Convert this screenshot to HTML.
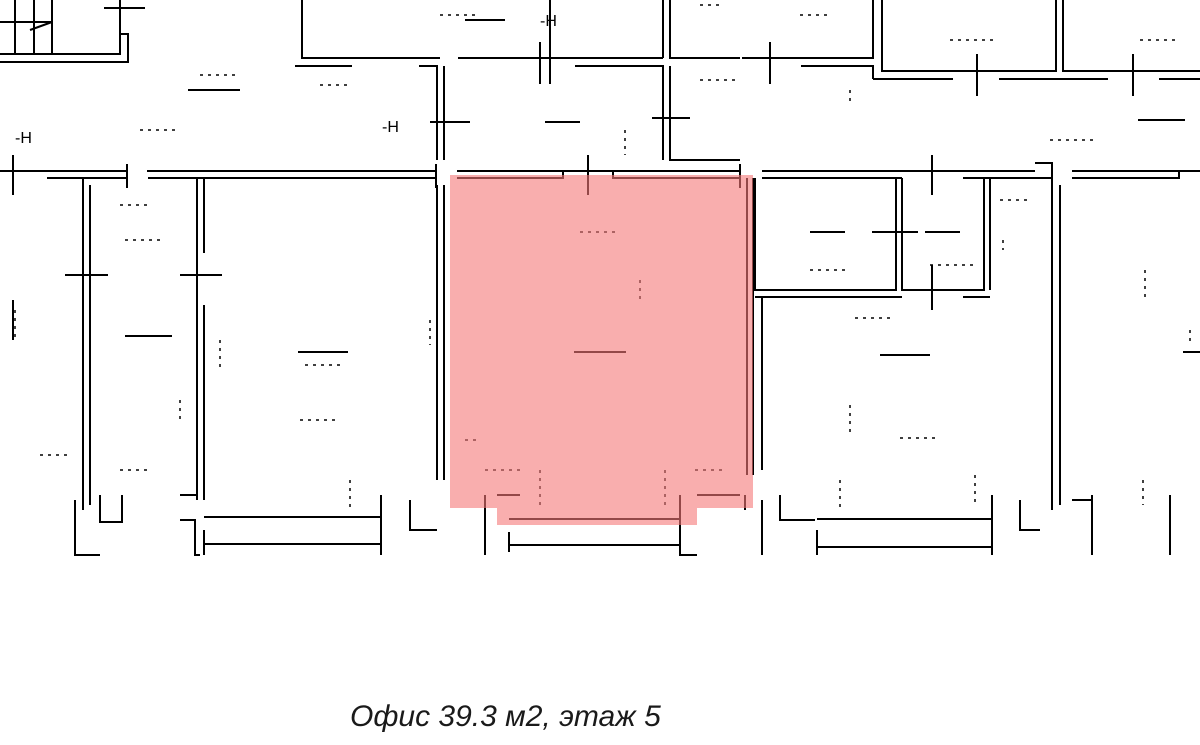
<!DOCTYPE html>
<html><head><meta charset="utf-8"><style>
html,body{margin:0;padding:0;background:#fff;width:1200px;height:745px;overflow:hidden}
svg{position:absolute;left:0;top:0}
.cap{position:absolute;left:350px;top:700px;font-family:"Liberation Sans","DejaVu Sans",sans-serif;font-style:italic;font-size:30px;color:#1a1a1a;white-space:nowrap}
</style></head><body>
<svg width="1200" height="745" viewBox="0 0 1200 745">
<g stroke="#000" stroke-width="2" fill="none">
<path d="M15 0V54M34 0V54M52 0V54M0 22H52M0 54H120V34H128V62H0M30 30L52 22M104 8H145M120 0V54"/>
<path d="M302 0V58H440M458 58H663M663 0V58M670 0V58H740M295 66H352M419 66H437V160M444 66V160M575 66H663V160M670 66V160H740M550 0V84M770 42V84M540 42V84"/>
<path d="M430 122H470M652 118H690M742 58H873V0M801 66H873V79M882 0V71H1056V0M1063 0V71H1200M873 79H953M999 79H1108M1159 79H1200M977 54V96M1133 54V96"/>
<path d="M0 171H127M47 178H127M127 164V188M147 171H436M148 178H436M436 164V188M13 155V195M457 171H740M457 178H563V171M613 171V178H740M588 155V195M740 164V188"/>
<path d="M762 171H1035M762 178H902M963 178H1052M1035 163H1052V510M1060 185V505M1072 171H1200M1072 178H1179V171M932 155V195"/>
<path d="M83 178V510M90 185V505M197 178V253M204 178V253M197 253V500M204 305V500M65 275H108M180 275H222M13 300V340"/>
<path d="M437 185V480M444 185V480M747 178V475M753 178V475"/>
<path d="M755 178V290H896V178M902 178V290H984V178M990 178V290M755 297H902V297M963 297H990M762 297V470M872 232H918M932 265V310"/>
<path d="M100 495V522H122V495M75 500V555H100M180 495H197M180 520H195V555H200M204 517H381M204 544H381M204 530V555M381 495V555M410 500V530H437M485 495V555M497 495H520M509 532V552M509 519H680M509 545H680M680 495V555H697M697 495H740M745 495V510M762 500V555M780 495V520H815M817 519H992M817 547H992M817 530V555M992 495V555M1020 500V530H1040M1092 495V555M1072 500H1092M1170 495V555"/>
<path d="M125 336H172M298 352H348M574 352H626M810 232H845M925 232H960M880 355H930M1183 352H1200M1138 120H1185M188 90H240M545 122H580M465 20H505"/>
</g>
<g fill="#000" font-family="Liberation Sans,sans-serif" font-size="16">
<text x="540" y="26">-H</text><text x="15" y="143">-H</text><text x="382" y="132">-H</text>
</g>
<g stroke="#000" stroke-width="1.5" stroke-dasharray="3 5" fill="none">
<path d="M200 75H235M320 85H350M140 130H175M120 205H150M125 240H160M40 455H70M120 470H150M300 420H335M305 365H340M580 232H615M640 280V300M465 440H480M485 470H520M695 470H725M810 270H845M930 265H975M855 318H890M900 438H935M1000 200H1030M1003 240V250M1050 140H1095M1140 40H1175M950 40H995M800 15H830M440 15H480M700 80H740M700 5H720M850 90V105M625 130V155M1145 270V300M1190 330V345M850 405V435M15 310V340M180 400V420M220 340V370M430 320V345M350 480V510M540 470V505M665 470V505M840 480V510M975 475V505M1143 480V505"/>
</g>
<path d="M450 175H753V508H697V525H497V508H450Z" fill="rgb(245,120,120)" fill-opacity="0.6"/>
</svg>
<div class="cap">Офис 39.3 м2, этаж 5</div>
</body></html>
